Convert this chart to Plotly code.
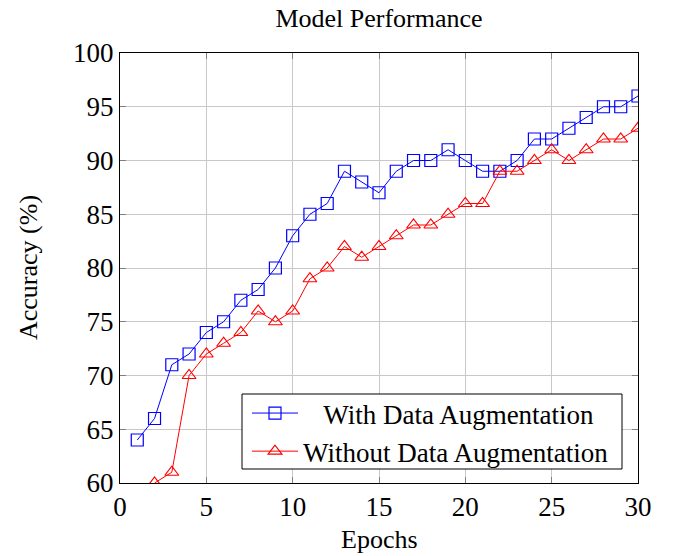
import plotly.graph_objects as go

epochs_with = list(range(1, 31))
acc_with = [64, 66, 71, 72, 74, 75, 77, 78, 80, 83, 85, 86, 89, 88, 87,
            89, 90, 90, 91, 90, 89, 89, 90, 92, 92, 93, 94, 95, 95, 96]
epochs_without = list(range(2, 31))
acc_without = [60, 61, 70, 72, 73, 74, 76, 75, 76, 79, 80, 82, 81, 82,
               83, 84, 84, 85, 86, 86, 89, 89, 90, 91, 90, 91, 92, 92, 93]
x_ticks = [0, 5, 10, 15, 20, 25, 30]
y_ticks = [60, 65, 70, 75, 80, 85, 90, 95, 100]

FONT = "Liberation Serif, Times New Roman, serif"

# plot area in pixels
L, R, T, B = 120, 638, 53, 483
PW, PH = R - L, B - T

def px(xp):
    return (xp - L) / PW

def py(yp):
    return (B - yp) / PH

fig = go.Figure()
fig.add_trace(go.Scatter(
    x=epochs_with, y=acc_with, mode="lines+markers",
    name="\u00a0\u00a0\u00a0With Data Augmentation",
    line=dict(color="#0000ff", width=1),
    marker=dict(symbol="square-open", size=12, color="#0000ff", line=dict(width=1.2)),
))
fig.add_trace(go.Scatter(
    x=epochs_without, y=acc_without, mode="lines+markers",
    name="Without Data Augmentation",
    line=dict(color="#ff0000", width=1),
    marker=dict(symbol="triangle-up-open", size=12, color="#ff0000", line=dict(width=1.2)),
))

axis_common = dict(
    showline=True, linecolor="black", linewidth=1, mirror="ticks",
    showgrid=True, gridcolor="#c8c8c8", gridwidth=1,
    ticks="inside", ticklen=6, tickcolor="#7f7f7f", tickwidth=1,
    zeroline=False,
    tickfont=dict(family=FONT, size=27, color="black"),
)

fig.update_layout(
    width=673, height=556,
    margin=dict(l=L, r=673 - R, t=T, b=556 - B),
    plot_bgcolor="white", paper_bgcolor="white",
    font=dict(family=FONT, color="black"),
    title=dict(text="Model Performance", x=(L + R) / 2 / 673, xanchor="center",
               y=1 - 18 / 556, yanchor="middle", yref="container",
               font=dict(family=FONT, size=26, color="black")),
    xaxis=dict(range=[0, 30], tickvals=x_ticks, **axis_common),
    yaxis=dict(range=[60, 100], tickvals=y_ticks, **axis_common),
    showlegend=True,
    legend=dict(
        x=px(247), xanchor="left",
        y=py(389), yanchor="top",
        bgcolor="rgba(0,0,0,0)", borderwidth=0,
        font=dict(family=FONT, size=27, color="black"),
        itemwidth=46,
        tracegroupgap=0,
    ),
    shapes=[
        dict(type="rect", xref="paper", yref="paper",
             x0=px(242), x1=px(622), y0=py(469), y1=py(394),
             fillcolor="white", line=dict(color="black", width=1), layer="above"),
    ],
    annotations=[
        dict(text="Epochs", xref="paper", yref="paper", x=0.5, y=-(556 - B) / PH,
             xanchor="center", yanchor="bottom", showarrow=False,
             font=dict(family=FONT, size=26, color="black")),
        dict(text="Accuracy (%)", xref="paper", yref="paper", x=-(L - 28) / PW, y=0.5,
             xanchor="center", yanchor="middle", textangle=-90, showarrow=False,
             font=dict(family=FONT, size=26, color="black")),
    ],
)

fig.write_html("out.html", config={"displayModeBar": False},
               post_script="document.body.style.margin='0';")
